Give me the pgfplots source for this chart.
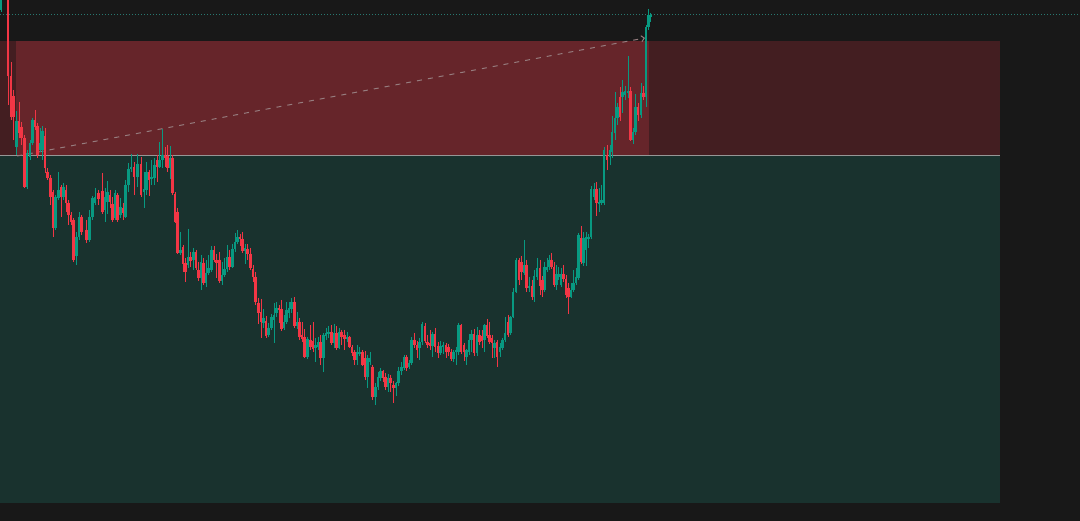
\documentclass[border=0pt]{standalone}
\usepackage{pgfplots}
\pgfplotsset{compat=1.18}
\usepackage{pgfplotstable}
\usetikzlibrary{arrows.meta}

\definecolor{bg}{RGB}{24,24,24}
\definecolor{zonegreen}{RGB}{25,50,46}
\definecolor{zonered}{RGB}{102,37,42}
\definecolor{zonereddark}{RGB}{67,30,33}
\definecolor{cup}{RGB}{8,153,129}
\definecolor{cdown}{RGB}{242,54,69}
\definecolor{midline}{RGB}{150,150,150}
\definecolor{dotline}{RGB}{40,120,112}
\definecolor{dashline}{RGB}{150,124,126}

% candles in pixel coordinates (y grows downwards)
% x, body top, body bottom, wick top, wick bottom
\pgfplotstableread{
x t b h l
1 -5 10 -20 12
16.5 121 147 111 155
27 153 187 150 189
30 143 157 140 160
32.5 120 143 118 145
40.5 143 150 128 152
42.5 131 150 126 160
55.5 197 228 195 230
58.5 190 198 172 200
63.5 187 197 183 200
76.5 237 256 232 265
79 217 237 212 240
89.5 217 240 210 242
92.5 198 217 196 220
95 197 203 188 205
105 197 210 188 222
107.5 192 202 181 214
115 193 218 190 220
120.5 207 215 198 218
125.5 185 217 180 218
128.5 169 185 163 192
131 167 169 154 172
137.5 164 177 154 187
144 189 192 172 208
146.5 172 190 162 195
151.5 177 179 160 185
154.5 165 178 158 185
159.5 160 167 142 168
162.5 155 160 129 168
170 158 168 146 179
180.5 250 253 232 255
188 257 265 229 268
193.5 252 260 248 270
201 262 278 255 290
206 273 283 260 287
208.5 268 273 255 275
211.5 250 270 246 272
222 275 281 262 285
224.5 269 275 258 277
227 257 269 245 272
232.5 249 267 244 268
235 242 249 233 252
237.5 237 242 230 244
245 248 251 244 264
263.5 318 323 309 328
268.5 328 335 323 337
271.5 317 328 314 330
274 315 320 303 343
276.5 308 313 302 317
284 322 328 315 330
286.5 310 322 302 324
289 308 313 302 318
291.5 302 309 298 313
297 322 326 312 329
307.5 339 357 337 359
315.5 345 348 338 362
318 342 347 337 350
323.5 335 358 333 372
326 333 336 328 340
328.5 332 334 326 338
334 333 343 324 348
339 332 348 328 349
347 337 339 332 342
357 352 360 345 365
359.5 352 354 347 356
367.5 358 377 355 388
370 358 362 352 365
375.5 387 397 383 405
378 377 387 372 390
380.5 371 378 368 381
388 378 387 374 392
396 383 388 382 396
398.5 371 383 367 386
401.5 367 371 362 375
404 357 368 355 370
409 363 367 360 369
411.5 340 363 337 365
419.5 342 348 338 360
422 324 342 322 345
432.5 334 346 332 357
440.5 346 353 341 355
443 345 347 342 354
453.5 352 359 350 362
456 350 352 347 365
458.5 325 352 323 355
466.5 350 357 349 365
469 340 352 334 355
471.5 334 340 330 352
477 335 353 327 356
484.5 325 340 324 352
494.5 343 348 340 358
500 347 352 343 357
502.5 340 348 338 350
505 333 340 317 342
510.5 317 333 316 335
513 292 317 288 318
516 260 292 258 293
524 265 273 240 275
529 286 288 277 292
534 276 297 270 302
537 268 277 258 280
544.5 267 290 262 292
547 267 270 258 272
549.5 260 267 255 270
556.5 274 285 265 290
558.5 274 277 267 280
561 274 285 268 287
571 290 297 283 298
573.5 283 290 270 292
576 277 283 268 285
578.5 235 278 233 280
583.5 238 263 232 266
586 237 250 232 266
588.5 237 239 234 248
591 189 237 186 239
594 189 197 183 200
599 202 204 188 212
601.5 200 203 185 205
604 150 203 147 205
610 150 157 145 165
612 132 152 116 158
615 118 133 92 140
617.5 107 118 103 125
622.5 92 97 80 113
625 91 95 86 100
628 91 93 56 98
633 132 140 128 144
635.5 107 132 94 135
641 93 115 83 118
646 27 97 25 107
648.5 15 27 9 30
650.5 15 17 13 22
}\upcandles

\pgfplotstableread{
x t b h l
8 -5 76 -20 105
11 76 117 62 120
13.5 96 117 90 140
19 121 133 102 138
21.5 127 138 122 145
24.5 138 187 135 188
35 120 127 110 130
37.5 126 155 123 158
45 136 168 128 173
47.5 172 178 168 180
50.5 178 197 175 205
53 192 228 190 237
61 187 197 185 217
66 190 203 185 212
68.5 203 215 200 225
71 215 222 212 225
73.5 220 260 218 262
81.5 217 232 215 235
86.5 230 240 220 243
98.5 193 199 190 205
102.5 191 212 173 214
110 195 202 190 208
112.5 204 220 197 222
117.5 195 220 193 222
123 208 213 203 220
134 167 177 162 195
141 164 195 157 197
149 172 180 170 196
157 160 167 155 182
165 155 158 147 167
167.5 156 168 145 172
172.5 158 193 155 195
175 194 222 192 223
177.5 212 253 208 254
183 247 264 245 272
185.5 263 272 258 282
190.5 257 261 252 267
196 252 268 250 270
198.5 270 278 262 281
203.5 263 283 258 285
214 250 260 246 262
216.5 260 263 254 278
219.5 260 281 252 283
229.5 257 267 250 270
240 237 239 234 246
242.5 239 251 232 253
247.5 249 254 244 260
250.5 254 268 248 270
253 269 277 265 282
255.5 277 302 272 305
258.5 303 313 298 324
261 312 322 299 338
266 321 336 316 338
279 308 310 305 323
281.5 309 329 300 331
294.5 302 326 297 328
299.5 322 337 318 340
302 335 339 322 342
304.5 337 357 329 358
310.5 340 347 325 350
313 341 349 322 352
320.5 342 358 335 365
331.5 332 343 325 345
336.5 333 348 326 350
341.5 332 337 330 345
344.5 335 339 330 350
349.5 337 347 336 348
352 347 353 345 356
354.5 352 360 350 365
362.5 352 365 350 366
365 358 377 351 380
372.5 367 397 365 400
383 371 378 370 382
385.5 377 387 373 390
390.5 378 383 375 392
393.5 385 388 381 403
406.5 357 368 355 371
414.5 340 345 333 348
417 345 350 341 358
425 326 341 323 343
427.5 342 345 335 348
430 343 346 330 350
435 334 347 328 352
438 346 353 342 358
446 345 352 343 358
448.5 347 352 344 356
451 352 359 349 361
461 325 352 324 354
464 345 352 343 361
474 334 353 329 356
479.5 335 342 330 345
482 336 341 330 348
487 325 336 319 338
489.5 335 342 322 344
492 338 343 335 358
497 342 357 340 367
508 322 335 315 337
519 260 280 258 285
521.5 262 272 256 280
526.5 265 288 260 292
532 286 297 280 300
540 268 286 260 295
542.5 280 290 276 297
551.5 260 267 253 269
554 267 285 262 287
563.5 274 279 265 282
566 279 295 275 298
568.5 288 297 283 314
581 238 262 226 264
596.5 189 203 182 216
607 155 160 145 170
620 97 117 87 121
630.5 91 140 87 141
638 107 115 103 121
643.5 93 97 86 100
}\downcandles

\begin{document}
\begin{tikzpicture}
\begin{axis}[
  width=1080pt, height=521pt, scale only axis,
  xmin=0, xmax=1080, ymin=0, ymax=521,
  y dir=reverse,
  hide axis, clip=true,
]
% background and zones
\addplot[fill=bg, draw=none] coordinates {(0,0) (1080,0) (1080,521) (0,521)} -- cycle;
\addplot[fill=zonegreen, draw=none] coordinates {(0,156) (1000,156) (1000,503) (0,503)} -- cycle;
\addplot[fill=zonereddark, draw=none] coordinates {(0,41) (1000,41) (1000,156) (0,156)} -- cycle;
\addplot[fill=zonered, draw=none] coordinates {(16,41) (649,41) (649,156) (16,156)} -- cycle;
\addplot[midline, line width=1pt] coordinates {(0,156) (1000,156)};
\addplot[dotline, line width=1pt, dash pattern=on 1pt off 2pt] coordinates {(0,15) (1080,15)};
\addplot[dashline, line width=1pt, dash pattern=on 5pt off 6pt, -{Straight Barb[length=3pt]}] coordinates {(17,156) (645,38)};

% wicks
\addplot[cup, mark=none, quiver={u=0, v={\thisrow{l}-\thisrow{h}},
    every arrow/.append style={line width=1pt, draw=cup}}]
  table[x=x, y=h] {\upcandles};
\addplot[cdown, mark=none, quiver={u=0, v={\thisrow{l}-\thisrow{h}},
    every arrow/.append style={line width=1pt, draw=cdown}}]
  table[x=x, y=h] {\downcandles};
% bodies
\addplot[cup, mark=none, quiver={u=0, v={\thisrow{b}-\thisrow{t}+0.8},
    every arrow/.append style={line width=2.4pt, draw=cup}}]
  table[x=x, y expr=\thisrow{t}-0.4] {\upcandles};
\addplot[cdown, mark=none, quiver={u=0, v={\thisrow{b}-\thisrow{t}+0.8},
    every arrow/.append style={line width=2.4pt, draw=cdown}}]
  table[x=x, y expr=\thisrow{t}-0.4] {\downcandles};
\end{axis}
\pgfresetboundingbox
\path[use as bounding box] (current axis.south west) rectangle (current axis.north east);
\end{tikzpicture}
\end{document}
